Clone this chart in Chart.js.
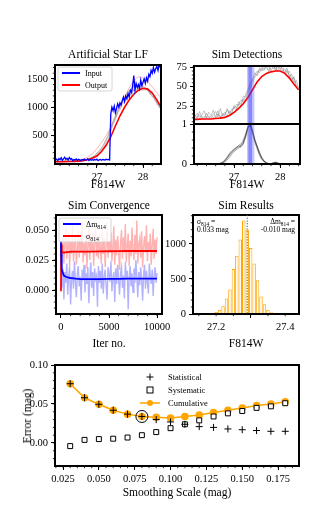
<!DOCTYPE html>
<html>
<head>
<meta charset="utf-8">
<script src="https://cdn.jsdelivr.net/npm/chart.js@4.4.1/dist/chart.umd.min.js"></script>
<style>
    body { margin: 0; width: 332px; height: 532px; position: relative; overflow: hidden; background: #fff; }
    canvas { position: absolute; }
    .lbl { position: absolute; white-space: nowrap; transform: translate(-50%, -50%); color: #000;
           font-family: 'Liberation Serif', 'DejaVu Serif', serif; font-size: 11.5px; }
</style>
</head>
<body>
<script>
// ---------- data ----------

// Artificial Star LF (F814W grid)
const lfInputStart = 26.1, lfInputStep = 0.025;
const lfInput = [
    70, 85, 60, 95, 75, 110, 65, 90,
    120, 80, 100, 70, 115, 85, 95, 60,
    80, 70, 90, 65, 85, 75, 60, 80,
    70, 85, 65, 75, 90, 60, 80, 70,
    75, 65, 80, 70, 85, 60, 75, 80,
    65, 80, 75, 70, 85, 75, 80, 70,
    880, 1000, 940, 1020, 900, 980, 1060, 1000,
    1080, 1040, 1120, 1180, 1100, 1200, 1150, 1240,
    1180, 1300, 1260, 1380, 1560, 1300, 1420, 1350,
    1400, 1330, 1480, 1380, 1440, 1500, 1420, 1520,
    1460, 1580, 1540, 1650, 1600, 1700, 1620, 1680,
    1720, 1650, 1760, 1700, 1780,
];
const lfSmoothStart = 26.1, lfSmoothStep = 0.1;
const lfOutput = [40, 40, 42, 44, 46, 50, 58, 75, 100, 140, 220, 330, 480, 670, 850, 1000, 1130, 1230, 1300, 1335, 1320, 1250, 1130, 990];
const lfOutputAlt = [38, 40, 44, 48, 55, 65, 85, 120, 180, 270, 380, 500, 650, 820, 1000, 1180, 1340, 1470, 1540, 1520, 1450, 1360, 1260, 1150];
const lfGreyStart = 26.1, lfGreyStep = 0.05;
const lfGrey1 = [45, 40, 50, 42, 48, 44, 52, 46, 50, 55, 48, 60, 58, 70, 80, 95, 110, 130, 160, 200, 260, 300, 380, 450, 560, 700, 780, 900, 950, 1050, 1100, 1180, 1250, 1200, 1320, 1280, 1350, 1300, 1380, 1340, 1290, 1250, 1200, 1150, 1080, 1020, 960];
const lfGrey2 = [40, 48, 44, 52, 40, 50, 46, 55, 48, 52, 60, 55, 65, 75, 90, 105, 125, 150, 190, 240, 290, 360, 430, 530, 640, 760, 850, 960, 1020, 1120, 1170, 1240, 1300, 1260, 1380, 1250, 1400, 1330, 1290, 1360, 1310, 1220, 1260, 1120, 1100, 990, 1010];
const lfGrey3 = [50, 42, 46, 40, 55, 48, 50, 44, 58, 50, 52, 65, 62, 68, 85, 100, 120, 145, 175, 225, 275, 340, 420, 500, 610, 720, 820, 930, 1000, 1080, 1150, 1210, 1280, 1330, 1290, 1400, 1320, 1420, 1350, 1300, 1330, 1270, 1180, 1190, 1050, 1060, 940];

// Sim Detections
const detRed = [8, 8, 8.5, 8.5, 8.5, 9, 9.5, 10.5, 13, 17, 22, 28, 36, 46, 56, 63, 67, 69, 70, 70, 67, 61, 53, 46];
const detGrey1 = [10, 14, 9, 18, 11, 8, 16, 10, 12, 20, 9, 15, 11, 13, 17, 12, 19, 15, 24, 20, 28, 25, 34, 32, 42, 48, 55, 62, 66, 72, 70, 78, 74, 71, 79, 73, 76, 70, 78, 72, 68, 74, 62, 66, 55, 58, 48];
const detGrey2 = [9, 11, 16, 9, 13, 19, 10, 12, 9, 14, 18, 11, 22, 12, 15, 20, 16, 21, 22, 27, 26, 33, 31, 40, 47, 52, 60, 64, 70, 68, 75, 72, 78, 76, 70, 77, 72, 79, 74, 70, 73, 67, 70, 60, 61, 52, 50];
const detGrey3 = [12, 9, 11, 14, 9, 12, 10, 17, 13, 10, 12, 19, 10, 16, 12, 22, 14, 18, 26, 22, 31, 27, 38, 36, 45, 55, 58, 68, 64, 74, 72, 71, 77, 69, 75, 79, 70, 76, 72, 77, 66, 71, 64, 57, 63, 49, 45];
const kernStart = 26.6, kernStep = 0.05;
const kern1 = [0, 0, 0.01, 0.03, 0.07, 0.14, 0.22, 0.29, 0.34, 0.39, 0.43, 0.46, 0.55, 0.70, 0.90, 0.98, 0.80, 0.58, 0.42, 0.26, 0.14, 0.07, 0.03, 0.01, 0.01, 0.03, 0.04, 0.02, 0, 0, 0];
const kern2 = [0, 0, 0.02, 0.05, 0.10, 0.18, 0.27, 0.33, 0.38, 0.42, 0.45, 0.44, 0.50, 0.66, 0.88, 1.02, 0.85, 0.62, 0.45, 0.30, 0.17, 0.08, 0.03, 0.01, 0, 0.02, 0.05, 0.03, 0.01, 0, 0];
const kern3 = [0, 0, 0, 0.02, 0.05, 0.10, 0.17, 0.25, 0.31, 0.36, 0.40, 0.43, 0.52, 0.72, 0.95, 0.95, 0.75, 0.55, 0.38, 0.22, 0.11, 0.05, 0.02, 0, 0, 0.01, 0.02, 0.01, 0, 0, 0];
const kern4 = [0, 0.01, 0.02, 0.04, 0.09, 0.16, 0.24, 0.31, 0.36, 0.41, 0.47, 0.50, 0.60, 0.75, 0.92, 1.00, 0.83, 0.60, 0.44, 0.28, 0.15, 0.07, 0.03, 0.01, 0.01, 0.03, 0.04, 0.02, 0, 0, 0];
const bandOuter = [27.28, 27.44];
const bandInner = [27.31, 27.39];

// Sim Convergence
const iterStep = 100;
const iterDm = [0.041, 0.002, 0.018, -0.008, 0.015, 0.006, 0.022, -0.004, 0.012, 0.019, -0.012, 0.009, 0.016, 0.001, 0.024, 0.007, -0.006, 0.013, 0.020, 0.003, 0.011, -0.009, 0.017, 0.008, 0.021, -0.002, 0.014, 0.005, 0.019, -0.011, 0.010, 0.023, 0.002, 0.015, -0.005, 0.018, 0.009, 0.012, -0.014, 0.020, 0.006, 0.016, 0.001, 0.022, -0.003, 0.011, 0.017, 0.004, -0.008, 0.019, 0.013, 0.007, 0.024, -0.001, 0.010, 0.015, -0.010, 0.018, 0.005, 0.021, 0.008, -0.004, 0.014, 0.019, 0.002, 0.012, -0.007, 0.023, 0.009, 0.016, -0.016, 0.011, 0.020, 0.003, 0.014, -0.002, 0.018, 0.006, 0.025, 0.010, -0.006, 0.015, 0.004, 0.019, 0.008, -0.009, 0.013, 0.021, 0.001, 0.016, 0.007, -0.003, 0.022, 0.011, 0.005, 0.017, -0.005, 0.012, 0.019, 0.006, 0.014];
const iterSig = [0.040, 0.028, 0.045, 0.022, 0.038, 0.052, 0.026, 0.035, 0.048, 0.019, 0.041, 0.030, 0.055, 0.024, 0.037, 0.046, 0.021, 0.033, 0.050, 0.027, 0.043, 0.031, 0.057, 0.023, 0.039, 0.029, 0.047, 0.018, 0.036, 0.052, 0.025, 0.044, 0.032, 0.049, 0.020, 0.038, 0.054, 0.028, 0.041, 0.026, 0.046, 0.034, 0.022, 0.051, 0.030, 0.043, 0.019, 0.037, 0.056, 0.027, 0.040, 0.032, 0.048, 0.024, 0.035, 0.053, 0.021, 0.042, 0.029, 0.045, 0.033, 0.017, 0.039, 0.050, 0.026, 0.044, 0.031, 0.055, 0.023, 0.036, 0.047, 0.020, 0.041, 0.028, 0.052, 0.034, 0.025, 0.046, 0.030, 0.058, 0.022, 0.038, 0.043, 0.027, 0.049, 0.019, 0.036, 0.045, 0.031, 0.054, 0.024, 0.040, 0.033, 0.047, 0.021, 0.037, 0.051, 0.026, 0.042, 0.030, 0.044];
const runX = [0, 20, 50, 100, 200, 300, 500, 700, 1000, 1500, 2000, 3000, 4000, 5000, 6000, 7000, 8000, 9000, 10000];
const runDm = [0.041, 0.030, 0.022, 0.017, 0.014, 0.012, 0.011, 0.0105, 0.010, 0.0095, 0.009, 0.009, 0.009, 0.0092, 0.0093, 0.0094, 0.0095, 0.0095, 0.0095];
const runSig = [-0.001, 0.038, 0.032, 0.031, 0.0315, 0.031, 0.0315, 0.0315, 0.032, 0.032, 0.032, 0.032, 0.0322, 0.0323, 0.0324, 0.0325, 0.0325, 0.0325, 0.0325];

// Sim Results histogram
const histCenters = [27.17, 27.18, 27.19, 27.20, 27.21, 27.22, 27.23, 27.24, 27.25, 27.26, 27.27, 27.28, 27.29, 27.30, 27.31, 27.32, 27.33, 27.34, 27.35, 27.36, 27.37, 27.38];
const histCounts = [3, 8, 15, 30, 60, 110, 220, 350, 640, 830, 1060, 1330, 1200, 940, 720, 480, 250, 140, 60, 25, 10, 4];
const histMedian = 27.29;
const resLeft = [['σ', 0], ['814', 1], [' =', 0]];
const resLeft2 = '0.033 mag';
const resRight = [['Δm', 0], ['814', 1], [' =', 0]];
const resRight2 = '-0.010 mag';

// Smoothing scale
const smoothScale = [0.03, 0.04, 0.05, 0.06, 0.07, 0.08, 0.09, 0.10, 0.11, 0.12, 0.13, 0.14, 0.15, 0.16, 0.17, 0.18];
const errStat = [0.076, 0.058, 0.0496, 0.042, 0.037, 0.034, 0.030, 0.027, 0.024, 0.021, 0.020, 0.018, 0.017, 0.016, 0.015, 0.015];
const errSys = [-0.004, 0.004, 0.005, 0.0055, 0.007, 0.010, 0.014, 0.019, 0.024, 0.029, 0.034, 0.038, 0.041, 0.045, 0.047, 0.051];
const errCum = [0.076, 0.058, 0.0496, 0.042, 0.037, 0.034, 0.033, 0.032, 0.034, 0.036, 0.039, 0.042, 0.045, 0.048, 0.050, 0.053];
const bestScale = [0.08];
const bestErr = [0.034];
const errNames = ['Statistical', 'Systematic', 'Cumulative'];

// tick values and labels
const lfYTicks = [500, 1000, 1500], lfYLabels = ['500', '1000', '1500'];
const magTicks = [27, 28], magLabels = ['27', '28'];
const detYTicks = [25, 50, 75], detYLabels = ['25', '50', '75'];
const kernYTicks = [0, 1], kernYLabels = ['0', '1'];
const convYTicks = [0, 0.025, 0.05], convYLabels = ['0.000', '0.025', '0.050'];
const convXTicks = [0, 5000, 10000], convXLabels = ['0', '5000', '10000'];
const resYTicks = [0, 500, 1000], resYLabels = ['0', '500', '1000'];
const resXTicks = [27.2, 27.4], resXLabels = ['27.2', '27.4'];
const errYTicks = [0, 0.05, 0.1], errYLabels = ['0.00', '0.05', '0.10'];
const errXTicks = [0.025, 0.05, 0.075, 0.1, 0.125, 0.15, 0.175];
const errXLabels = ['0.025', '0.050', '0.075', '0.100', '0.125', '0.150', '0.175'];

// ---------- helpers ----------
const FONT = "'Liberation Serif', 'DejaVu Serif', serif";
Chart.defaults.font.family = FONT;
Chart.defaults.font.size = 10.5;
Chart.defaults.color = '#000';

function series(start, step, ys) {
    return ys.map((y, i) => ({ x: +(start + i * step).toFixed(4), y }));
}
function pairs(xs, ys) {
    return xs.map((x, i) => ({ x, y: ys[i] }));
}
function range(a, b, step) {
    const out = [];
    for (let v = a; v <= b + step / 10; v += step) out.push(+v.toFixed(6));
    return out;
}
function line(data, color, width) {
    return { type: 'line', data, borderColor: color, borderWidth: width, pointRadius: 0, tension: 0, fill: false };
}

function axis(min, max, ticks, labels, showLabels = true) {
    return {
        type: 'linear', min, max,
        afterBuildTicks: (s) => { s.ticks = ticks.map((v) => ({ value: v })); },
        ticks: { display: showLabels, callback: (v, i) => labels[i], padding: 3, maxRotation: 0, autoSkip: false },
        grid: { drawOnChartArea: false, tickLength: showLabels ? 4 : 0, color: '#000', lineWidth: 1 },
        border: { display: false },
    };
}

function drawRich(ctx, parts, x, y, size, align) {
    const fontOf = (sub) => `${sub ? size * 0.72 : size}px ${FONT}`;
    let total = 0;
    parts.forEach(([t, s]) => { ctx.font = fontOf(s); total += ctx.measureText(t).width; });
    let cx = align === 'right' ? x - total : x;
    ctx.textAlign = 'left';
    ctx.textBaseline = 'alphabetic';
    parts.forEach(([t, s]) => {
        ctx.font = fontOf(s);
        ctx.fillText(t, cx, s ? y + size * 0.25 : y);
        cx += ctx.measureText(t).width;
    });
}

const framePlugin = {
    id: 'frame',
    afterDraw(chart) {
        const { ctx, chartArea: a } = chart;
        ctx.save();
        ctx.lineWidth = 2;
        ctx.strokeStyle = '#000';
        ctx.strokeRect(a.left, a.top, a.right - a.left, a.bottom - a.top);
        ctx.restore();
    },
};

const minorPlugin = {
    id: 'minor',
    afterDraw(chart, args, opts) {
        const { ctx, chartArea: a, scales } = chart;
        ctx.save();
        ctx.strokeStyle = '#000';
        ctx.lineWidth = 0.8;
        (opts.x || []).forEach((v) => {
            const p = scales.x.getPixelForValue(v);
            if (p < a.left - 0.5 || p > a.right + 0.5) return;
            ctx.beginPath(); ctx.moveTo(p, a.bottom); ctx.lineTo(p, a.bottom + 2.2); ctx.stroke();
        });
        (opts.y || []).forEach((v) => {
            const p = scales.y.getPixelForValue(v);
            if (p < a.top - 0.5 || p > a.bottom + 0.5) return;
            ctx.beginPath(); ctx.moveTo(a.left, p); ctx.lineTo(a.left - 2.2, p); ctx.stroke();
        });
        ctx.restore();
    },
};

function makePanel(box, type, datasets, scales, plugOpts, own) {
    const ML = 45, MT = 10, MR = 24, MB = 30;
    const c = document.createElement('canvas');
    const w = box.r - box.l + ML + MR, h = box.b - box.t + MT + MB;
    c.width = w; c.height = h;
    c.style.left = (box.l - ML) + 'px';
    c.style.top = (box.t - MT) + 'px';
    document.body.appendChild(c);
    scales.x.afterFit = (s) => { s.height = MB; };
    scales.y.afterFit = (s) => { s.width = ML; };
    return new Chart(c, {
        type,
        data: { datasets },
        options: {
            responsive: false,
            animation: false,
            layout: { padding: { top: MT, right: MR, left: 0, bottom: 0 } },
            plugins: Object.assign({ legend: { display: false }, tooltip: { enabled: false } }, plugOpts),
            scales,
        },
        plugins: [framePlugin, minorPlugin].concat(own || []),
    });
}

function boxLegend(items, dx, dy, w, h, size) {
    return {
        id: 'boxLegend',
        afterDraw(chart) {
            const { ctx, chartArea: a } = chart;
            const x0 = a.left + dx, y0 = a.top + dy;
            ctx.save();
            ctx.fillStyle = 'rgba(255,255,255,0.8)';
            ctx.strokeStyle = '#cccccc';
            ctx.lineWidth = 0.8;
            ctx.beginPath();
            ctx.roundRect(x0, y0, w, h, 2);
            ctx.fill(); ctx.stroke();
            items.forEach((it, i) => {
                const yy = y0 + 6 + i * (h - 12) / Math.max(items.length - 1, 1);
                ctx.strokeStyle = it.color;
                ctx.lineWidth = 2;
                ctx.beginPath(); ctx.moveTo(x0 + 4, yy); ctx.lineTo(x0 + 22, yy); ctx.stroke();
                ctx.fillStyle = '#000';
                drawRich(ctx, it.parts, x0 + 27, yy + size * 0.33, size, 'left');
            });
            ctx.restore();
        },
    };
}

function addLabel(text, x, y, rot) {
    const d = document.createElement('div');
    d.className = 'lbl';
    d.textContent = text;
    d.style.left = x + 'px';
    d.style.top = y + 'px';
    if (rot) d.style.transform = 'translate(-50%, -50%) rotate(-90deg)';
    document.body.appendChild(d);
}

// ---------- panel 1: Artificial Star LF ----------
const grey = 'rgba(110,110,110,0.45)';
makePanel({ l: 55, t: 65, r: 161, b: 164 }, 'line', [
    line(series(lfInputStart, lfInputStep, lfInput), '#0000ff', 1.3),
    line(series(lfSmoothStart, lfSmoothStep, lfOutput), '#ff0000', 1.6),
    line(series(lfGreyStart, lfGreyStep, lfGrey1), grey, 0.8),
    line(series(lfGreyStart, lfGreyStep, lfGrey2), grey, 0.8),
    line(series(lfGreyStart, lfGreyStep, lfGrey3), grey, 0.8),
    line(series(lfSmoothStart, lfSmoothStep, lfOutputAlt), 'rgba(255,0,0,0.3)', 1),
], {
    x: axis(26.09, 28.39, magTicks, magLabels),
    y: axis(0, 1745, lfYTicks, lfYLabels),
}, { minor: { x: range(26.2, 28.2, 0.2), y: range(100, 1700, 100) } },
[boxLegend([
    { color: '#0000ff', parts: [['Input', 0]] },
    { color: '#ff0000', parts: [['Output', 0]] },
], 3, 2, 54, 24, 8)]);

// ---------- panel 2: Sim Detections ----------
const bandPlugin = {
    id: 'band',
    afterDatasetsDraw(chart) {
        const { ctx, chartArea: a, scales } = chart;
        ctx.save();
        ctx.fillStyle = 'rgba(90,90,255,0.35)';
        let p0 = scales.x.getPixelForValue(bandOuter[0]), p1 = scales.x.getPixelForValue(bandOuter[1]);
        ctx.fillRect(p0, a.top, p1 - p0, a.bottom - a.top);
        ctx.fillStyle = 'rgba(40,40,255,0.4)';
        p0 = scales.x.getPixelForValue(bandInner[0]); p1 = scales.x.getPixelForValue(bandInner[1]);
        ctx.fillRect(p0, a.top, p1 - p0, a.bottom - a.top);
        ctx.restore();
    },
};
const dgrey = 'rgba(60,60,60,0.35)';
makePanel({ l: 194, t: 66, r: 300, b: 124 }, 'line', [
    line(series(lfSmoothStart, lfSmoothStep, detRed), '#ff0000', 1.6),
    line(series(lfGreyStart, lfGreyStep, detGrey1), dgrey, 0.8),
    line(series(lfGreyStart, lfGreyStep, detGrey2), dgrey, 0.8),
    line(series(lfGreyStart, lfGreyStep, detGrey3), dgrey, 0.8),
], {
    x: axis(26.13, 28.43, magTicks, magLabels, false),
    y: axis(2, 76.5, detYTicks, detYLabels),
}, { minor: { y: range(5, 75, 5) } }, [bandPlugin]);

makePanel({ l: 194, t: 124, r: 300, b: 164 }, 'line', [
    line(series(kernStart, kernStep, kern1), 'rgba(0,0,0,0.5)', 0.7),
    line(series(kernStart, kernStep, kern2), 'rgba(0,0,0,0.5)', 0.7),
    line(series(kernStart, kernStep, kern3), 'rgba(0,0,0,0.5)', 0.7),
    line(series(kernStart, kernStep, kern4), 'rgba(0,0,0,0.5)', 0.7),
], {
    x: axis(26.13, 28.43, magTicks, magLabels),
    y: axis(0, 1, kernYTicks, kernYLabels),
}, { minor: { x: range(26.2, 28.4, 0.2), y: range(0.2, 0.8, 0.2) } }, [bandPlugin]);

// ---------- panel 3: Sim Convergence ----------
makePanel({ l: 56, t: 215, r: 162, b: 314 }, 'line', [
    line(pairs(runX, runDm), '#0000ff', 1.8),
    line(pairs(runX, runSig), '#ff0000', 1.8),
    line(series(0, iterStep, iterSig), 'rgba(255,0,0,0.3)', 1.4),
    line(series(0, iterStep, iterDm), 'rgba(0,0,255,0.3)', 1.4),
], {
    x: axis(-520, 10520, convXTicks, convXLabels),
    y: axis(-0.02, 0.0625, convYTicks, convYLabels),
}, { minor: { x: range(1000, 10000, 1000), y: range(-0.015, 0.06, 0.005) } },
[boxLegend([
    { color: '#0000ff', parts: [['Δm', 0], ['814', 1]] },
    { color: '#ff0000', parts: [['σ', 0], ['814', 1]] },
], 3, 3, 52, 24, 8)]);

// ---------- panel 4: Sim Results ----------
const resultsText = {
    id: 'resultsText',
    afterDraw(chart) {
        const { ctx, chartArea: a, scales } = chart;
        ctx.save();
        const px = scales.x.getPixelForValue(histMedian);
        ctx.strokeStyle = '#555';
        ctx.lineWidth = 1;
        ctx.setLineDash([1.2, 1.5]);
        ctx.beginPath(); ctx.moveTo(px, a.top); ctx.lineTo(px, a.bottom); ctx.stroke();
        ctx.setLineDash([]);
        ctx.fillStyle = '#000';
        drawRich(ctx, resLeft, a.left + 4, a.top + 9, 7.5, 'left');
        drawRich(ctx, [[resLeft2, 0]], a.left + 4, a.top + 17, 7.5, 'left');
        drawRich(ctx, resRight, a.right - 4, a.top + 9, 7.5, 'right');
        drawRich(ctx, [[resRight2, 0]], a.right - 4, a.top + 17, 7.5, 'right');
        ctx.restore();
    },
};
makePanel({ l: 193, t: 215, r: 299, b: 314 }, 'bar', [{
    data: pairs(histCenters, histCounts),
    backgroundColor: '#fffaf0',
    borderColor: '#ffa500',
    borderWidth: 1,
    inflateAmount: 0,
    barPercentage: 1,
    categoryPercentage: 1,
}], {
    x: Object.assign(axis(27.133, 27.44, resXTicks, resXLabels), { offset: false }),
    y: axis(0, 1410, resYTicks, resYLabels),
}, { minor: { x: range(27.15, 27.45, 0.05), y: range(100, 1400, 100) } }, [resultsText]);

// ---------- panel 5: error vs smoothing scale ----------
const errLegend = {
    id: 'errLegend',
    afterDraw(chart) {
        const { ctx, chartArea: a } = chart;
        const mx = a.left + 95, tx = a.left + 113;
        const rows = [a.top + 12, a.top + 25, a.top + 38];
        ctx.save();
        ctx.strokeStyle = '#000';
        ctx.lineWidth = 1;
        ctx.beginPath();
        ctx.moveTo(mx - 3.5, rows[0]); ctx.lineTo(mx + 3.5, rows[0]);
        ctx.moveTo(mx, rows[0] - 3.5); ctx.lineTo(mx, rows[0] + 3.5);
        ctx.stroke();
        ctx.strokeRect(mx - 3, rows[1] - 3, 6, 6);
        ctx.strokeStyle = '#ffa500';
        ctx.lineWidth = 1.5;
        ctx.beginPath(); ctx.moveTo(mx - 10, rows[2]); ctx.lineTo(mx + 10, rows[2]); ctx.stroke();
        ctx.fillStyle = '#ffa500';
        ctx.beginPath(); ctx.arc(mx, rows[2], 3, 0, Math.PI * 2); ctx.fill();
        ctx.fillStyle = '#000';
        errNames.forEach((t, i) => {
            drawRich(ctx, [[t, 0]], tx, rows[i] + 3, 8.5, 'left');
        });
        ctx.restore();
    },
};
makePanel({ l: 55, t: 365, r: 299, b: 466 }, 'line', [
    { data: pairs(bestScale, bestErr), showLine: false, pointStyle: 'circle', pointRadius: 6, pointBorderColor: '#000', pointBackgroundColor: 'rgba(0,0,0,0)', pointBorderWidth: 1, order: 0 },
    { data: pairs(smoothScale, errStat), showLine: false, pointStyle: 'cross', pointRadius: 3.5, pointBorderColor: '#000', pointBorderWidth: 1, order: 1 },
    { data: pairs(smoothScale, errSys), showLine: false, pointStyle: 'rect', pointRadius: 3.5, pointBorderColor: '#000', pointBackgroundColor: '#fff', pointBorderWidth: 1, order: 2 },
    { data: pairs(smoothScale, errCum), borderColor: '#ffa500', borderWidth: 1.5, pointStyle: 'circle', pointRadius: 3, pointBackgroundColor: '#ffa500', pointBorderColor: '#ffa500', tension: 0, order: 3 },
], {
    x: axis(0.0194, 0.1896, errXTicks, errXLabels),
    y: axis(-0.0295, 0.1, errYTicks, errYLabels),
}, { minor: { x: range(0.02, 0.185, 0.005), y: range(-0.02, 0.09, 0.01) } }, [errLegend]);

// ---------- titles and axis labels ----------
addLabel('Artificial Star LF', 108, 54);
addLabel('Sim Detections', 247, 54);
addLabel('F814W', 108, 184);
addLabel('F814W', 247, 184);
addLabel('Sim Convergence', 109, 205);
addLabel('Sim Results', 246, 205);
addLabel('Iter no.', 109, 343);
addLabel('F814W', 246, 343);
addLabel('Smoothing Scale (mag)', 177, 492);
addLabel('Error (mag)', 27, 416, true);
</script>
</body>
</html>
